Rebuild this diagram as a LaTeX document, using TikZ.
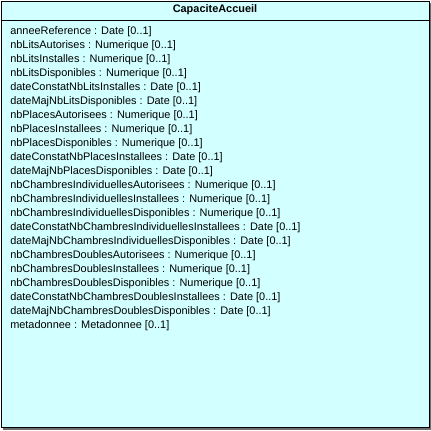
\documentclass[tikz,border=0pt]{standalone}
\usepackage{fontspec}
\setmainfont{Liberation Sans}
\definecolor{classfill}{RGB}{210,255,255}
\definecolor{shadowgray}{RGB}{110,110,110}
\begin{document}
\begin{tikzpicture}[x=0.75pt,y=-0.75pt,
  attr/.style={anchor=west,inner sep=0pt,font=\fontsize{8.2pt}{10pt}\selectfont,text=black},
  title/.style={inner sep=0pt,font=\fontsize{8.2pt}{10pt}\selectfont\bfseries}]
\useasboundingbox (0,0) rectangle (431,430);
\fill[shadowgray] (3,3) rectangle (431,430);
\node[draw=black,line width=0.75pt,fill=classfill,minimum width=428.5pt*0.75,minimum height=426.5pt*0.75,inner sep=0pt,anchor=north west] (box) at (0.5,0.5) {};
\draw[line width=0.75pt] (0.5,20.5) coordinate (sepl) -- (428.5,20.5) coordinate (sepr);
\node[title] (t) at (215,10) {CapaciteAccueil};
\foreach \txt [count=\i from 0] in {
anneeReference : Date [0..1],
nbLitsAutorises : Numerique [0..1],
nbLitsInstalles : Numerique [0..1],
nbLitsDisponibles : Numerique [0..1],
dateConstatNbLitsInstalles : Date [0..1],
dateMajNbLitsDisponibles : Date [0..1],
nbPlacesAutorisees : Numerique [0..1],
nbPlacesInstallees : Numerique [0..1],
nbPlacesDisponibles : Numerique [0..1],
dateConstatNbPlacesInstallees : Date [0..1],
dateMajNbPlacesDisponibles : Date [0..1],
nbChambresIndividuellesAutorisees : Numerique [0..1],
nbChambresIndividuellesInstallees : Numerique [0..1],
nbChambresIndividuellesDisponibles : Numerique [0..1],
dateConstatNbChambresIndividuellesInstallees : Date [0..1],
dateMajNbChambresIndividuellesDisponibles : Date [0..1],
nbChambresDoublesAutorisees : Numerique [0..1],
nbChambresDoublesInstallees : Numerique [0..1],
nbChambresDoublesDisponibles : Numerique [0..1],
dateConstatNbChambresDoublesInstallees : Date [0..1],
dateMajNbChambresDoublesDisponibles : Date [0..1],
metadonnee : Metadonnee [0..1]}
  \node[attr] (a\i) at (10,{32+14*\i}) {\txt};
\end{tikzpicture}
\end{document}
